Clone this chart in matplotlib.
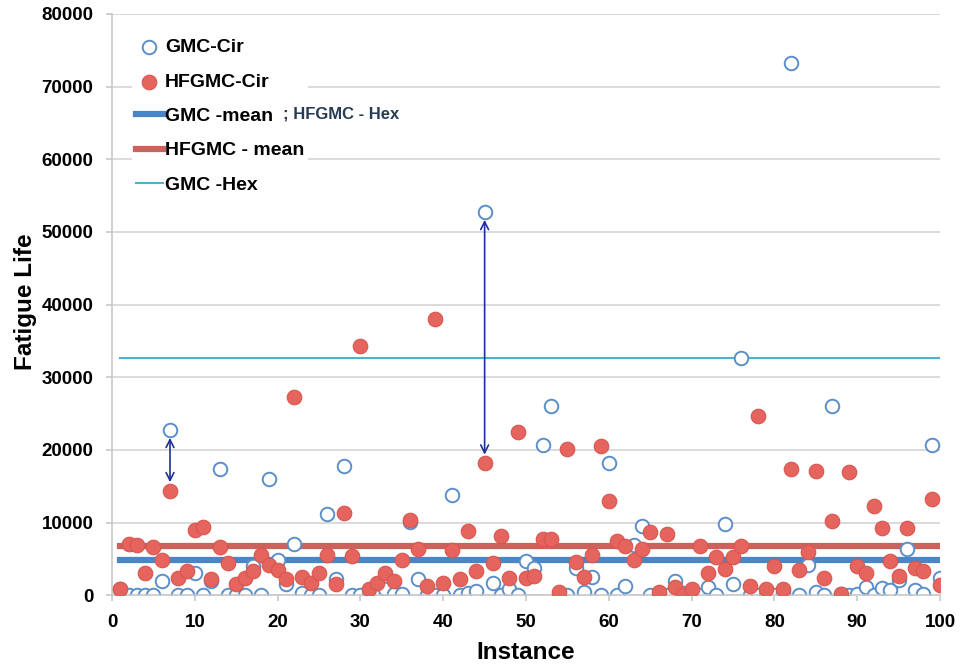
import matplotlib
matplotlib.use("Agg")
import matplotlib.pyplot as plt
import numpy as np

plt.rcParams["font.family"] = ["Liberation Sans", "DejaVu Sans"]
plt.rcParams["font.weight"] = "bold"

instance = np.arange(1, 101)

gmc_cir = [
    800, 0, 0, 0, 0, 1900, 22800, 0, 0, 3000,
    0, 2000, 17400, 0, 0, 0, 4000, 0, 16000, 4800,
    1500, 7100, 300, 0, 0, 11200, 2200, 17800, 0, 0,
    0, 0, 800, 200, 200, 10100, 2200, 0, 0, 0,
    13800, 0, 300, 600, 52800, 1700, 0, 800, 0, 4700,
    3800, 20700, 26000, 0, 0, 3800, 450, 2500, 0, 18200,
    0, 1200, 6900, 9500, 0, 0, 0, 1900, 300, 0,
    0, 1150, 0, 9800, 1600, 32700, 0, 0, 0, 0,
    500, 73300, 0, 4200, 500, 0, 26000, 200, 0, 200,
    1150, 0, 1000, 700, 2100, 6300, 650, 100, 20700, 2400,
]

hfgmc_cir = [
    900, 7100, 6900, 3100, 6600, 4900, 14400, 2300, 3300, 9000,
    9400, 2200, 6600, 4400, 1600, 2300, 3300, 5500, 4100, 3500,
    2200, 27300, 2500, 1700, 3100, 5500, 1500, 11300, 5400, 34300,
    900, 1700, 3000, 1900, 4800, 10400, 6300, 1200, 38000, 1700,
    6200, 2200, 8800, 3300, 18200, 4400, 8200, 2300, 22500, 2300,
    2700, 7800, 7800, 400, 20100, 4600, 2500, 5500, 20500, 13000,
    7400, 6800, 4900, 6300, 8700, 450, 8400, 1150, 0, 800,
    6800, 3000, 5300, 3600, 5300, 6800, 1200, 24700, 900, 4000,
    900, 17300, 3500, 5900, 17100, 2300, 10200, 200, 16900, 4000,
    3000, 12300, 9300, 4700, 2600, 9200, 3800, 3300, 13200, 1400,
]

gmc_mean = 4800
hfgmc_mean = 6800
gmc_hex = 32700

# gaps highlighted with arrows: (instance, from, to)
gaps = [(7, 22800, 14400), (45, 52800, 18200)]

fig = plt.figure(figsize=(9.6, 6.65), dpi=100)
ax = fig.add_axes([0.1167, 0.105, 0.8625, 0.874])

ax.plot(instance, np.full(len(instance), gmc_hex), color="#4bb3cc", lw=1.5, zorder=1,
        label="GMC -Hex")
ax.plot(instance, np.full(len(instance), gmc_mean), color="#4a86c5", lw=4.5, zorder=1,
        label="GMC -mean")
ax.plot(instance, np.full(len(instance), hfgmc_mean), color="#cc625c", lw=4.5, zorder=1,
        label="HFGMC - mean")

ax.scatter(instance, gmc_cir, s=95, facecolor="white", edgecolor="#5b8fc9", lw=1.4,
           zorder=2, label="GMC-Cir")
ax.scatter(instance, hfgmc_cir, s=110, facecolor="#e5645e", edgecolor="#d9554f", lw=0.8,
           zorder=3, label="HFGMC-Cir")

for xi, y0, y1 in gaps:
    ax.annotate("", xy=(xi, y1), xytext=(xi, y0),
                arrowprops=dict(arrowstyle="<->", color="#1f2f98", lw=1.2,
                                shrinkA=6, shrinkB=6, mutation_scale=14),
                zorder=4)

ax.set_xlim(0, 100)
ax.set_ylim(0, 80000)
ax.set_xticks(np.arange(0, 101, 10))
ax.set_yticks(np.arange(0, 80001, 10000))
ax.yaxis.grid(True, color="#d4d4d4", lw=1.2)
ax.set_axisbelow(True)
for s in ["top", "right"]:
    ax.spines[s].set_visible(False)
for s in ["left", "bottom"]:
    ax.spines[s].set_color("#c8c8c8")
    ax.spines[s].set_linewidth(1.2)
ax.tick_params(axis="both", colors="#c8c8c8", labelcolor="black", labelsize=13.5,
               length=4.5, width=1.2, pad=9)
for lab in ax.get_xticklabels() + ax.get_yticklabels():
    lab.set_fontweight("bold")
ax.set_xlabel("Instance", fontsize=17.5, fontweight="bold")
ax.set_ylabel("Fatigue Life", fontsize=17.5, fontweight="bold")
ax.xaxis.set_label_coords(0.499, -0.079)
ax.yaxis.set_label_coords(-0.091, 0.505)

handles, labels = ax.get_legend_handles_labels()
order = [3, 4, 1, 2, 0]
leg = ax.legend([handles[i] for i in order], [labels[i] for i in order],
                loc="upper left", bbox_to_anchor=(0.024, 0.964), borderaxespad=0,
                frameon=True, facecolor="white", edgecolor="none", framealpha=1,
                prop={"weight": "bold", "size": 14}, labelspacing=0.86,
                handlelength=1.4, handletextpad=0.1, borderpad=0.2)
leg.set_zorder(5)
ax.text(20.65, 66200, "; HFGMC - Hex", fontsize=12, fontweight="bold",
        color="#263c54", zorder=6, va="center", ha="left")

fig.savefig("out.png", dpi=100)
